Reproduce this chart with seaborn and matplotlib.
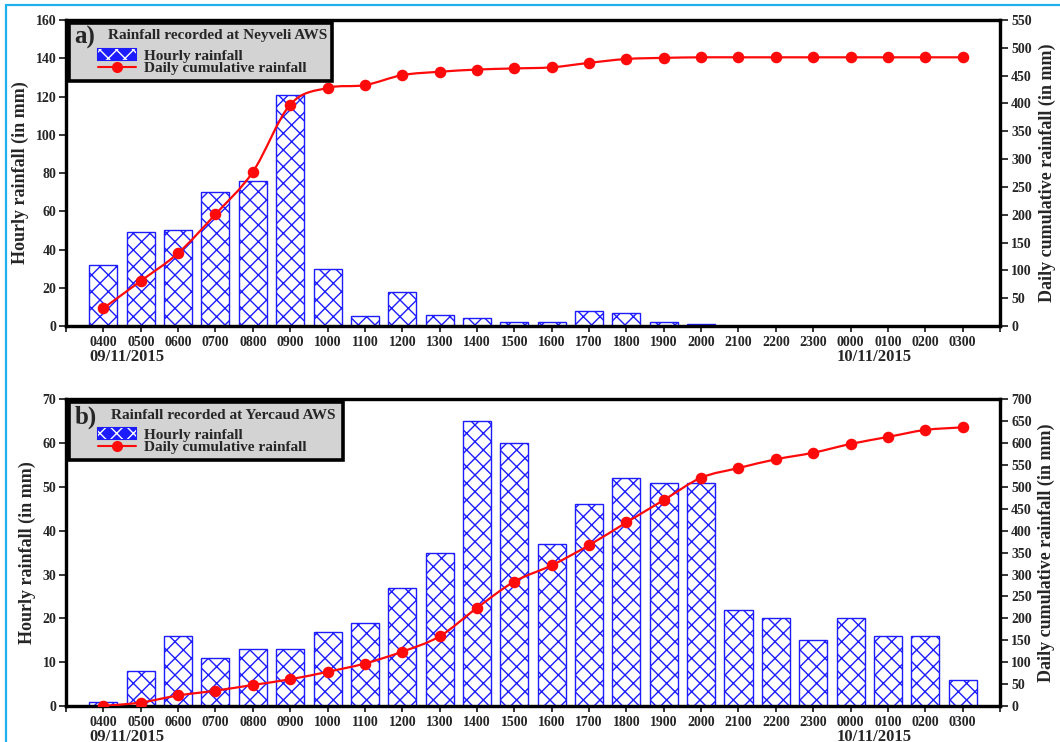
import numpy as np
import matplotlib
matplotlib.use("Agg")
import matplotlib.pyplot as plt
import seaborn as sns
from matplotlib.path import Path
from matplotlib.patches import PathPatch, Rectangle, Patch
from matplotlib.lines import Line2D
from matplotlib.legend_handler import HandlerTuple

# ---- data -------------------------------------------------------------
hours = ["0400", "0500", "0600", "0700", "0800", "0900", "1000", "1100",
         "1200", "1300", "1400", "1500", "1600", "1700", "1800", "1900",
         "2000", "2100", "2200", "2300", "0000", "0100", "0200", "0300"]

neyveli_hourly = [32, 49, 50, 70, 76, 121, 30, 5, 18, 6, 4, 2,
                  2, 8, 7, 2, 1, 0, 0, 0, 0, 0, 0, 0]
neyveli_cumulative = [32, 81, 131, 201, 277, 398, 428, 433, 451, 457, 461, 463,
                      465, 473, 480, 482, 483, 483, 483, 483, 483, 483, 483, 483]

yercaud_hourly = [1, 8, 16, 11, 13, 13, 17, 19, 27, 35, 65, 60,
                  37, 46, 52, 51, 51, 22, 20, 15, 20, 16, 16, 6]
yercaud_cumulative = [0, 8, 24, 35, 48, 61, 78, 97, 124, 159, 224, 284,
                      321, 367, 419, 470, 521, 543, 563, 578, 598, 614, 630, 636]

day_labels = ["09/11/2015", "10/11/2015"]
day_label_at = [0, 20]          # index of the hour where each date starts

BLUE = "#1c1cff"
RED = "#ff0a0a"
FRAME = "#1db1ee"

sns.set_style("ticks")
plt.rcParams["font.family"] = ["Liberation Serif", "DejaVu Serif"]
plt.rcParams["font.weight"] = "bold"
plt.rcParams["axes.labelweight"] = "bold"
plt.rcParams["hatch.linewidth"] = 1.0


def smooth_curve(xs, ys):
    """Cubic Bezier path through the points (Catmull-Rom tangents)."""
    xs = np.asarray(xs, float)
    ys = np.asarray(ys, float)
    n = len(xs)
    m = np.empty(n)
    m[1:-1] = (ys[2:] - ys[:-2]) / (xs[2:] - xs[:-2])
    m[0] = (ys[1] - ys[0]) / (xs[1] - xs[0])
    m[-1] = (ys[-1] - ys[-2]) / (xs[-1] - xs[-2])
    verts = [(xs[0], ys[0])]
    codes = [Path.MOVETO]
    for i in range(n - 1):
        h = (xs[i + 1] - xs[i]) / 3.0
        verts += [(xs[i] + h, ys[i] + m[i] * h),
                  (xs[i + 1] - h, ys[i + 1] - m[i + 1] * h),
                  (xs[i + 1], ys[i + 1])]
        codes += [Path.CURVE4] * 3
    return Path(verts, codes)


def draw_panel(ax, hourly, cumulative, letter, station, left_max, left_step,
               right_max, right_step, box, lab_x):
    ax2 = ax.twinx()

    sns.barplot(x=hours, y=hourly, ax=ax, color="white", saturation=1,
                edgecolor=BLUE, linewidth=1.0, hatch="xx", width=0.75,
                errorbar=None)

    pos = np.arange(len(hours))
    ax2.add_patch(PathPatch(smooth_curve(pos, cumulative), facecolor="none",
                            edgecolor=RED, lw=1.6, zorder=3))
    sns.pointplot(x=hours, y=cumulative, ax=ax2, color=RED, marker="o",
                  markersize=6.3, linestyle="none", errorbar=None, zorder=4)

    ax.set_xlim(-1, len(hours))
    ax.set_ylim(0, left_max)
    ax2.set_ylim(0, right_max)
    ax.set_yticks(np.arange(0, left_max + 1, left_step))
    ax2.set_yticks(np.arange(0, right_max + 1, right_step))
    ax.set_xticks(np.arange(-1, len(hours) + 1))
    ax.set_xticklabels([""] + hours + [""])

    ax.set_xlabel("")
    ax2.set_xlabel("")
    ax.set_ylabel("Hourly rainfall (in mm)", fontsize=13, fontweight="bold")
    ax2.set_ylabel("Daily cumulative rainfall (in mm)", fontsize=13,
                   fontweight="bold")
    ax.yaxis.set_label_coords(lab_x[0], 0.5)
    ax2.yaxis.set_label_coords(lab_x[1], 0.5)

    for a in (ax, ax2):
        for s in a.spines.values():
            s.set_visible(True)
            s.set_linewidth(2.3)
            s.set_color("black")
    ax.tick_params(axis="y", direction="out", length=5, width=1.3,
                   labelsize=10, pad=2)
    ax2.tick_params(axis="y", direction="out", length=6, width=1.3,
                    labelsize=10, pad=2)
    ax.tick_params(axis="x", direction="out", length=4, width=1.3,
                   labelsize=10, pad=3)
    for t in ax.get_xticklabels() + ax.get_yticklabels() + ax2.get_yticklabels():
        t.set_fontweight("bold")

    tr = ax.get_xaxis_transform()
    for lab, i in zip(day_labels, day_label_at):
        ax.text(i - 0.38, -0.10, lab, transform=tr, ha="left", va="center",
                fontsize=12, fontweight="bold")

    # legend box
    x0, x1, y0, y1, tx = box
    ax2.add_patch(Rectangle((x0, y0), x1 - x0, y1 - y0, transform=ax2.transAxes,
                            facecolor="#d3d3d3", edgecolor="black", lw=2.6,
                            zorder=10, clip_on=False))
    ax2.text(x0 + 0.006, y1 - 0.048, letter, transform=ax2.transAxes,
             fontsize=18, fontweight="bold", va="center", ha="left", zorder=11)
    ax2.text(tx, y1 - 0.042, station, transform=ax2.transAxes,
             fontsize=11, fontweight="bold", va="center", ha="left", zorder=11)
    bar_key = (Patch(facecolor=BLUE, edgecolor=BLUE, lw=1.5),
               Patch(facecolor="none", edgecolor="white", lw=0, hatch="xx"))
    line_key = Line2D([], [], color=RED, lw=1.5, marker="o", markersize=7)
    leg = ax2.legend([bar_key, line_key],
                     ["Hourly rainfall", "Daily cumulative rainfall"],
                     handler_map={tuple: HandlerTuple(ndivide=1, pad=0)},
                     loc="upper left", bbox_to_anchor=(x0 + 0.031, y1 - 0.085),
                     frameon=False, borderpad=0, borderaxespad=0,
                     handlelength=2.5, handleheight=0.7, handletextpad=0.5,
                     labelspacing=-0.10, prop=dict(size=11, weight="bold"))
    leg.set_zorder(12)


fig = plt.figure(figsize=(10.6, 7.42), dpi=100)
ax_a = fig.add_axes([0.0623, 0.5606, 0.8811, 0.4124])
ax_b = fig.add_axes([0.0623, 0.0485, 0.8811, 0.4134])

draw_panel(ax_a, neyveli_hourly, neyveli_cumulative, "a)",
           "Rainfall recorded at Neyveli AWS", 160, 20, 550, 50,
           (0.003, 0.285, 0.801, 0.990, 0.045), (-0.0396, 1.0418))
draw_panel(ax_b, yercaud_hourly, yercaud_cumulative, "b)",
           "Rainfall recorded at Yercaud AWS", 70, 10, 700, 50,
           (0.003, 0.297, 0.802, 0.990, 0.048), (-0.032, 1.0407))

# outer frame
fig.add_artist(Line2D([6 / 1060, 6 / 1060], [0, 1 - 5 / 742], color=FRAME,
                      lw=1.6, transform=fig.transFigure))
fig.add_artist(Line2D([6 / 1060, 1], [1 - 5 / 742, 1 - 5 / 742], color=FRAME,
                      lw=1.6, transform=fig.transFigure))

fig.savefig("out.png", dpi=100, facecolor="white")
